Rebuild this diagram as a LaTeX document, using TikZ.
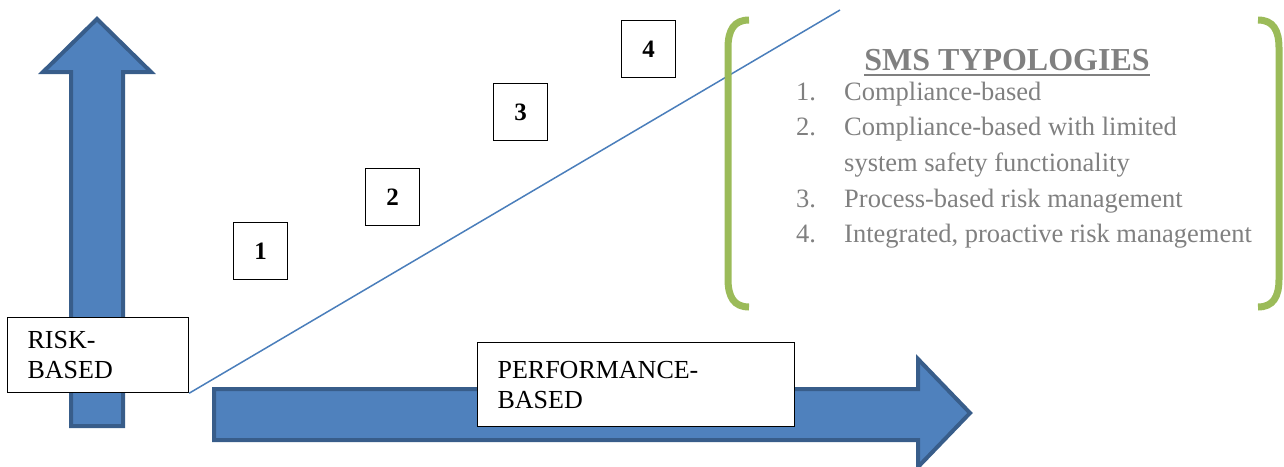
\documentclass[tikz,border=0pt]{standalone}
\usepackage{fontspec}
\setmainfont{Liberation Serif}
\usepackage{tikz}

\definecolor{arrowfill}{RGB}{79,129,189}
\definecolor{arrowedge}{RGB}{56,93,138}
\definecolor{slopeline}{RGB}{74,126,187}
\definecolor{bracketgreen}{RGB}{155,187,89}
\definecolor{listgray}{RGB}{128,128,128}

\begin{document}
\begin{tikzpicture}[x=1pt,y=-1pt,
  bigarrow/.style={fill=arrowfill,draw=arrowedge,line width=4pt,line join=miter},
  labelbox/.style={draw=black,fill=white,line width=1.2pt,align=left,anchor=north west,inner xsep=20pt,inner ysep=0pt,font=\fontsize{26}{30}\selectfont},
  numbox/.style={draw=black,fill=white,line width=1.2pt,minimum width=54pt,minimum height=57pt,anchor=north west,inner sep=0pt,font=\fontsize{25}{30}\selectfont\bfseries},
  bracket/.style={draw=bracketgreen,line width=7pt}]
\useasboundingbox (0,0) rectangle (1284,466);

% the two axes
\draw[bigarrow] (71,426) -- (71,72) -- (43,72) -- (97,19) -- (151,72) -- (123,72) -- (123,426) -- cycle;
\draw[bigarrow] (214,389) -- (918,389) -- (918,359) -- (970,413) -- (918,467) -- (918,440) -- (214,440) -- cycle;

\node[labelbox,text width=141pt,minimum height=75pt] (risk) at (7,317) {RISK-\\BASED};
\node[labelbox,text width=277pt,minimum height=84pt] (perf) at (477,342) {PERFORMANCE-\\BASED};

% steps
\node[numbox] (one) at (233,222) {1};
\node[numbox] (two) at (365,168) {2};
\node[numbox] (three) at (493,83) {3};
\node[numbox] (four) at (621,20) {4};

\coordinate (lineend) at (840,10);
\draw[slopeline,line width=1.5pt] (risk.south east) -- (lineend);

% legend
\draw[bracket] (749,20) .. controls (734,20) and (728,30) .. (728,48) -- (728,279) .. controls (728,297) and (734,307) .. (749,307);
\draw[bracket] (1258,20) .. controls (1273,20) and (1279,30) .. (1279,48) -- (1279,279) .. controls (1279,297) and (1273,307) .. (1258,307);

\node[font=\fontsize{32}{38}\selectfont\bfseries,text=listgray,inner sep=0pt,anchor=base] (title) at (1007,70) {SMS TYPOLOGIES};
\draw[listgray,line width=2.5pt] ([yshift=-5pt]title.base west) -- ([yshift=-5pt]title.base east);

\node[font=\fontsize{26.5}{35.7}\selectfont,text=listgray,inner sep=0pt,anchor=base west] (list) at (796,100) {%
\begin{tabular}[t]{@{}p{48pt}@{}l@{}}
1. & Compliance-based\\
2. & Compliance-based with limited\\
   & system safety functionality\\
3. & Process-based risk management\\
4. & Integrated, proactive risk management
\end{tabular}};
\end{tikzpicture}
\end{document}
